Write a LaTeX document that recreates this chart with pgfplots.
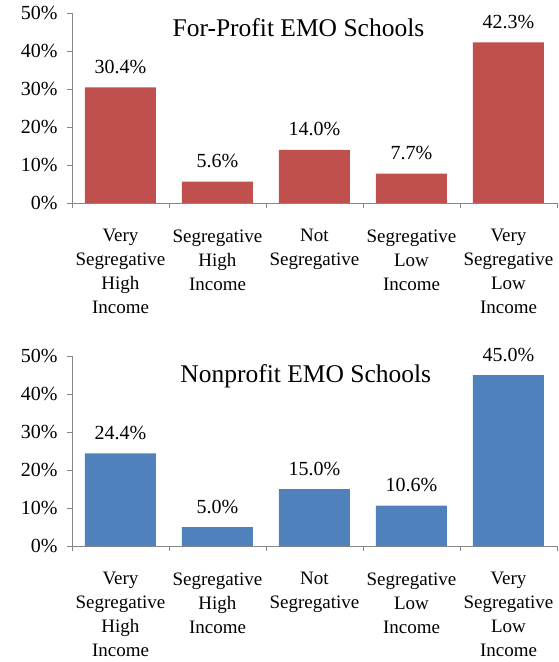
\documentclass[border=0pt]{standalone}
\usepackage{fontspec}
\setmainfont{Liberation Serif}
\usepackage{pgfplots}
\pgfplotsset{compat=1.18}

\definecolor{forred}{HTML}{C0504D}
\definecolor{nonblue}{HTML}{4F81BD}
\definecolor{axgray}{HTML}{868686}

\pgfplotsset{emo/.style={
    width=485pt, height=190pt, scale only axis,
    anchor=south west,
    ybar, bar width=71pt, bar shift=0pt,
    xmin=-0.5, xmax=4.5, ymin=0, ymax=50,
    axis x line=bottom, axis y line=left,
    axis line style={axgray, line width=0.9pt, -},
    ytick={0,10,...,50},
    yticklabel={\pgfmathprintnumber{\tick}\%},
    xtick={0,...,4},
    xticklabels={{Very\\Segregative\\High\\Income},
                 {Segregative\\High\\Income},
                 {Not\\Segregative},
                 {Segregative\\Low\\Income},
                 {Very\\Segregative\\Low\\Income}},
    minor xtick={-0.5,0.5,...,4.5},
    major x tick style={draw=none},
    tick align=outside,
    tick style={axgray, line width=0.9pt},
    major tick length=5pt, minor tick length=5pt,
    /pgf/number format/assume math mode=true,
    yticklabel style={font=\fontsize{20}{24}\selectfont, xshift=-6pt},
    xticklabel style={align=center, font=\fontsize{19}{24}\selectfont, yshift=-18pt},
    nodes near coords={\pgfmathprintnumber[fixed, fixed zerofill, precision=1]{\pgfplotspointmeta}\%},
    nodes near coords style={font=\fontsize{20}{24}\selectfont, black, anchor=south, yshift=10pt},
    clip=false,
}}

\begin{document}
\begin{tikzpicture}
\useasboundingbox (0,0) rectangle (558pt,662pt);

% for-profit panel
\begin{axis}[emo, at={(72pt,459pt)}]
\addplot[fill=forred, draw=none] coordinates {(0,30.4) (1,5.6) (2,14.0) (3,7.7) (4,42.3)};
\node[font=\fontsize{25.5}{30}\selectfont, anchor=base] at (rel axis cs:0.467,0.874) {For-Profit EMO Schools};
\end{axis}

% nonprofit panel
\begin{axis}[emo, at={(72pt,116pt)}]
\addplot[fill=nonblue, draw=none] coordinates {(0,24.4) (1,5.0) (2,15.0) (3,10.6) (4,45.0)};
\node[font=\fontsize{25.5}{30}\selectfont, anchor=base] at (rel axis cs:0.482,0.863) {Nonprofit EMO Schools};
\end{axis}
\end{tikzpicture}
\end{document}
